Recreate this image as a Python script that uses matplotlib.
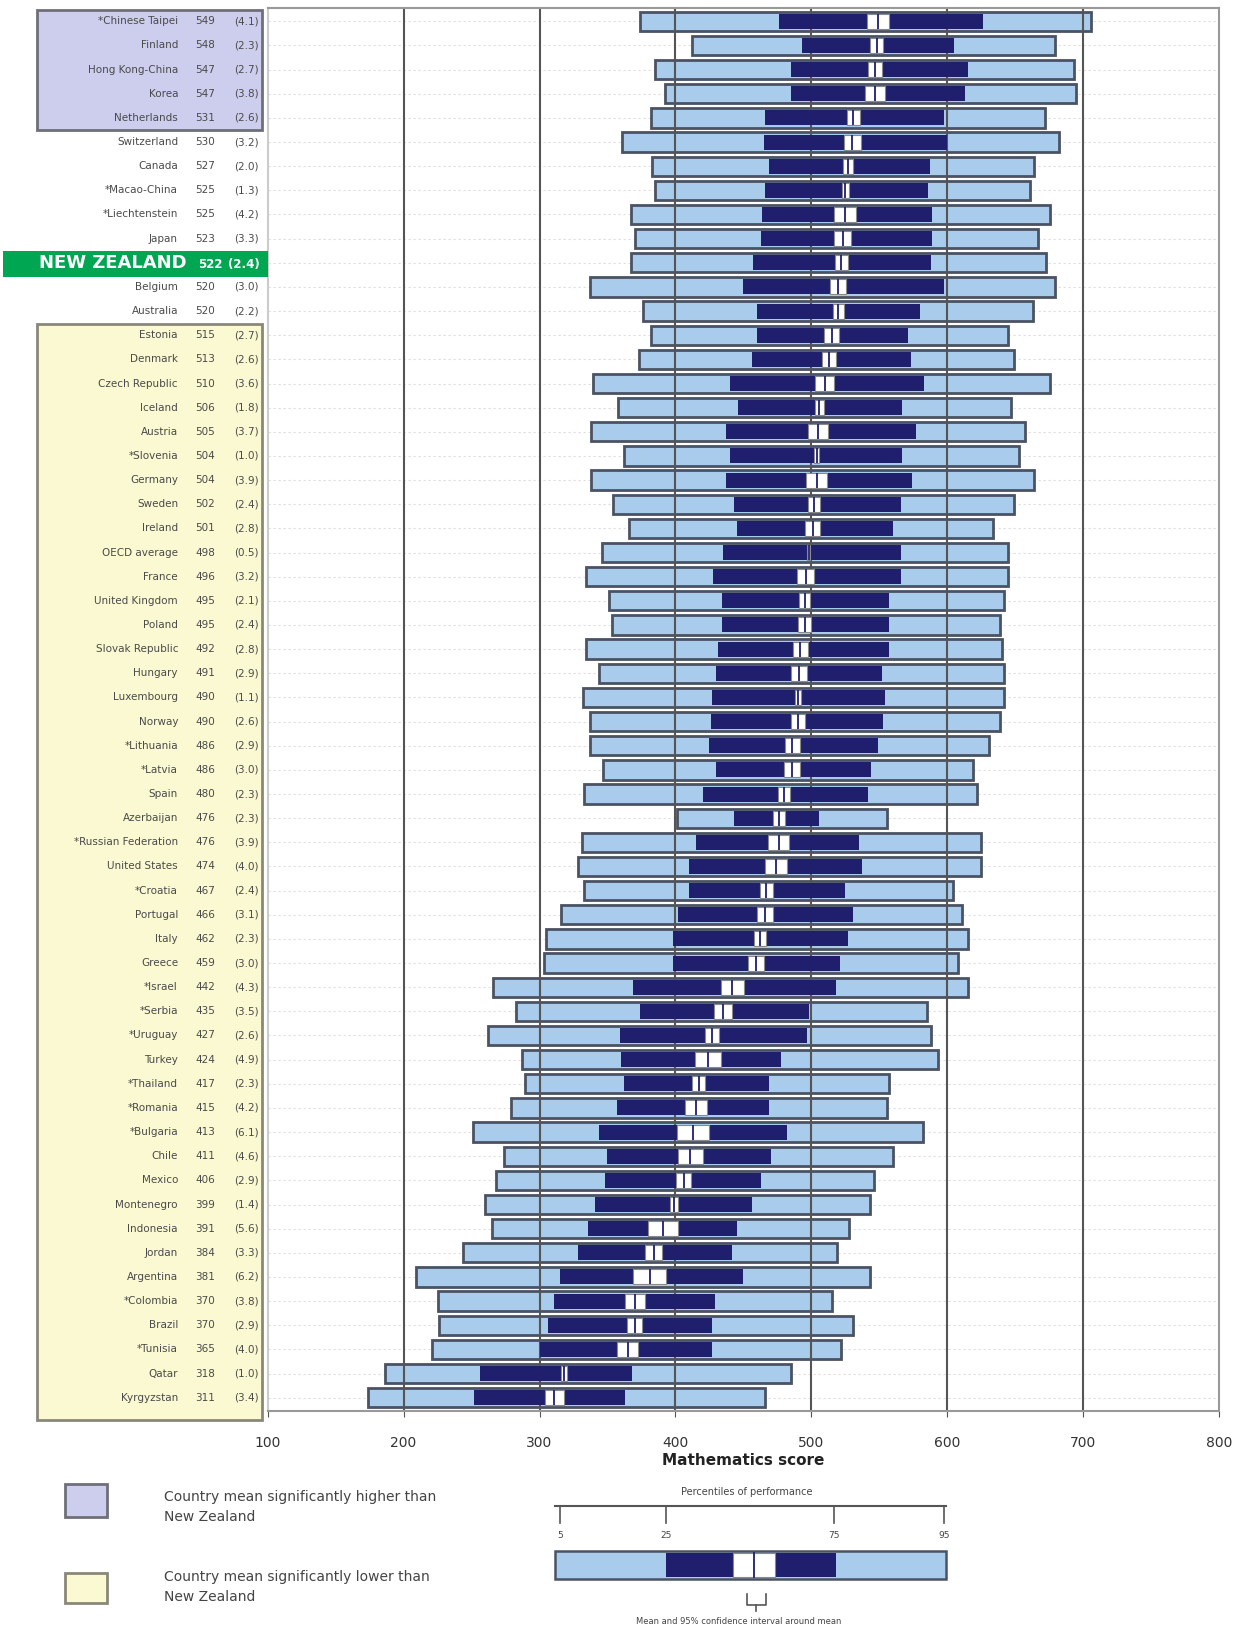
import matplotlib.pyplot as plt
from matplotlib.patches import Rectangle

# PISA 2006 mathematics, ordered by mean
countries = ["*Chinese Taipei", "Finland", "Hong Kong-China", "Korea", "Netherlands",
             "Switzerland", "Canada", "*Macao-China", "*Liechtenstein", "Japan",
             "NEW ZEALAND", "Belgium", "Australia", "Estonia", "Denmark",
             "Czech Republic", "Iceland", "Austria", "*Slovenia", "Germany",
             "Sweden", "Ireland", "OECD average", "France", "United Kingdom",
             "Poland", "Slovak Republic", "Hungary", "Luxembourg", "Norway",
             "*Lithuania", "*Latvia", "Spain", "Azerbaijan", "*Russian Federation",
             "United States", "*Croatia", "Portugal", "Italy", "Greece",
             "*Israel", "*Serbia", "*Uruguay", "Turkey", "*Thailand",
             "*Romania", "*Bulgaria", "Chile", "Mexico", "Montenegro",
             "Indonesia", "Jordan", "Argentina", "*Colombia", "Brazil",
             "*Tunisia", "Qatar", "Kyrgyzstan"]
means = [549, 548, 547, 547, 531, 530, 527, 525, 525, 523, 522, 520, 520, 515, 513,
         510, 506, 505, 504, 504, 502, 501, 498, 496, 495, 495, 492, 491, 490, 490,
         486, 486, 480, 476, 476, 474, 467, 466, 462, 459, 442, 435, 427, 424, 417,
         415, 413, 411, 406, 399, 391, 384, 381, 370, 370, 365, 318, 311]
se = [4.1, 2.3, 2.7, 3.8, 2.6, 3.2, 2.0, 1.3, 4.2, 3.3, 2.4, 3.0, 2.2, 2.7, 2.6,
      3.6, 1.8, 3.7, 1.0, 3.9, 2.4, 2.8, 0.5, 3.2, 2.1, 2.4, 2.8, 2.9, 1.1, 2.6,
      2.9, 3.0, 2.3, 2.3, 3.9, 4.0, 2.4, 3.1, 2.3, 3.0, 4.3, 3.5, 2.6, 4.9, 2.3,
      4.2, 6.1, 4.6, 2.9, 1.4, 5.6, 3.3, 6.2, 3.8, 2.9, 4.0, 1.0, 3.4]
p5 = [374, 412, 385, 392, 382, 361, 383, 385, 367, 370, 367, 337, 376, 382, 373,
      339, 358, 338, 362, 338, 354, 366, 346, 334, 351, 353, 334, 344, 332, 337,
      337, 347, 333, 401, 331, 328, 333, 316, 305, 303, 266, 283, 262, 287, 289,
      279, 251, 274, 268, 260, 265, 244, 209, 225, 226, 221, 186, 174]
p25 = [476, 493, 485, 485, 466, 465, 469, 466, 464, 463, 457, 450, 460, 460, 456,
       440, 446, 437, 440, 437, 443, 445, 435, 428, 434, 434, 431, 430, 427, 426,
       425, 430, 420, 443, 415, 410, 410, 402, 398, 398, 369, 374, 359, 360, 362,
       357, 344, 350, 348, 341, 336, 328, 315, 311, 306, 300, 256, 252]
p75 = [626, 605, 615, 613, 598, 600, 587, 586, 589, 589, 588, 598, 580, 571, 573,
       583, 567, 577, 567, 574, 566, 560, 566, 566, 557, 557, 557, 552, 554, 553,
       549, 544, 542, 506, 535, 537, 525, 531, 527, 521, 518, 498, 497, 478, 469,
       469, 482, 470, 463, 456, 445, 442, 450, 429, 427, 427, 368, 363]
p95 = [706, 679, 693, 695, 672, 682, 664, 661, 676, 667, 673, 679, 663, 645, 649,
       676, 647, 657, 653, 664, 649, 634, 645, 645, 642, 639, 640, 642, 642, 639,
       631, 619, 622, 556, 625, 625, 604, 611, 615, 608, 615, 585, 588, 593, 557,
       556, 582, 560, 546, 543, 528, 519, 543, 515, 531, 522, 485, 466]
n_higher = 5      # rows significantly above NZ
first_lower = 13  # first row significantly below NZ

LIGHT = '#a9cbec'
DARK = '#1f1f6e'
EDGE = '#4a5263'
PURPLE = '#cdcdee'
YELLOW = '#fbf9d2'
GREEN = '#00a651'
TXT = '#4a4a4a'

W, H = 1245, 1627
fig = plt.figure(figsize=(W / 100, H / 100), dpi=100)

ax_l, ax_r, ax_t, ax_b = 267.7, 1219, 8, 1411
ylim = (57.55, -0.55)
ax = fig.add_axes([ax_l / W, 1 - ax_b / H, (ax_r - ax_l) / W, (ax_b - ax_t) / H])
ax.set_xlim(100, 800)
ax.set_ylim(*ylim)

rows = list(range(len(countries)))
for i in rows:
    ax.plot([100, 800], [i, i], color='#dedede', lw=0.8, ls=(0, (2, 2.5)), zorder=1)

ax.barh(rows, [b - a for a, b in zip(p5, p95)], left=p5, height=0.8,
        color=LIGHT, edgecolor=EDGE, linewidth=2.0, zorder=2)
for g in [200, 300, 400, 500, 600, 700]:
    ax.axvline(g, color='#555555', lw=1.5, zorder=2.5)
ax.barh(rows, [b - a for a, b in zip(p25, p75)], left=p25, height=0.62,
        color=DARK, edgecolor='none', zorder=3)
ci = [1.96 * s for s in se]
ax.barh(rows, [2 * c for c in ci], left=[m - c for m, c in zip(means, ci)], height=0.62,
        color='white', edgecolor='#8a8a8a', linewidth=0.8, zorder=4)
ax.vlines(means, [r - 0.31 for r in rows], [r + 0.31 for r in rows],
          color=DARK, lw=1.3, zorder=5)

ax.set_yticks([])
ax.set_xticks(range(100, 801, 100))
ax.tick_params(axis='x', length=4, pad=14, labelsize=10, colors='#555555', labelcolor='#333333')
for s in ax.spines.values():
    s.set_color('#999999')
    s.set_linewidth(1.5)
ax.spines['left'].set_color('#cccccc')
ax.set_xlabel('Mathematics score', fontsize=11, fontweight='bold', color='#222222', labelpad=2)

# left label panel, same rows as the chart
lp = fig.add_axes([0, 1 - ax_b / H, ax_l / W, (ax_b - ax_t) / H])
lp.set_xlim(0, ax_l)
lp.set_ylim(*ylim)
lp.axis('off')
lp.add_patch(Rectangle((37, -0.45), 225, n_higher - 0.5 + 0.45, facecolor=PURPLE,
                       edgecolor='#6f6f7a', lw=2, clip_on=False))
lp.add_patch(Rectangle((37, first_lower - 0.45), 225, len(countries) - first_lower + 0.45 - 0.07,
                       facecolor=YELLOW, edgecolor='#8a8878', lw=2, clip_on=False))
nz = countries.index('NEW ZEALAND')
lp.add_patch(Rectangle((3, nz - 0.5), 265, 1.07, facecolor=GREEN, edgecolor='none', clip_on=False))
for i, name in enumerate(countries):
    if name == 'NEW ZEALAND':
        lp.text(187, i + 0.02, name, ha='right', va='center', fontsize=13, fontweight='bold', color='white')
        lp.text(210, i + 0.08, str(means[i]), ha='center', va='center', fontsize=8.5, fontweight='bold', color='white')
        lp.text(244, i + 0.08, '(%.1f)' % se[i], ha='center', va='center', fontsize=8.5, fontweight='bold', color='white')
    else:
        lp.text(178, i, name, ha='right', va='center', fontsize=7.5, color=TXT)
        lp.text(205, i, str(means[i]), ha='center', va='center', fontsize=7.5, color=TXT)
        lp.text(246, i, '(%.1f)' % se[i], ha='center', va='center', fontsize=7.5, color=TXT)

# legends at the bottom, in pixel coordinates
ov = fig.add_axes([0, 0, 1, 1])
ov.set_xlim(0, W)
ov.set_ylim(H, 0)
ov.axis('off')
ov.add_patch(Rectangle((65, 1484), 42, 33, facecolor=PURPLE, edgecolor='#6f6f7a', lw=2))
ov.add_patch(Rectangle((65, 1573), 42, 30, facecolor=YELLOW, edgecolor='#8a8878', lw=2))
ov.text(164, 1507, 'Country mean significantly higher than\nNew Zealand', fontsize=10,
        color='#444444', va='center', linespacing=1.6)
ov.text(164, 1587, 'Country mean significantly lower than\nNew Zealand', fontsize=10,
        color='#444444', va='center', linespacing=1.6)

ov.text(747, 1492, 'Percentiles of performance', ha='center', va='center', fontsize=7, color='#444444')
leg_ticks = [560, 666, 834, 944]
ov.plot([555, 946], [1506, 1506], color='#555555', lw=1.5)
for tx, lab in zip(leg_ticks, ['5', '25', '75', '95']):
    ov.plot([tx, tx], [1506, 1523], color='#555555', lw=1.2)
    ov.text(tx, 1535, lab, ha='center', va='center', fontsize=6.5, color='#444444')
ov.add_patch(Rectangle((555, 1551), 391, 28, facecolor=LIGHT, edgecolor=EDGE, lw=1.8))
ov.add_patch(Rectangle((666, 1553), 170, 24, facecolor=DARK, edgecolor='none'))
ov.add_patch(Rectangle((733, 1553), 42, 24, facecolor='white', edgecolor='#8a8a8a', lw=0.8))
ov.plot([754, 754], [1553, 1577], color=DARK, lw=1.3)
ov.plot([747, 747, 766, 766], [1594, 1605, 1605, 1594], color='#555555', lw=1.2)
ov.plot([756, 756], [1605, 1611], color='#555555', lw=1.2)
ov.text(739, 1621, 'Mean and 95% confidence interval around mean', ha='center', va='center',
        fontsize=6, color='#444444')

fig.savefig('out.png', dpi=100)
